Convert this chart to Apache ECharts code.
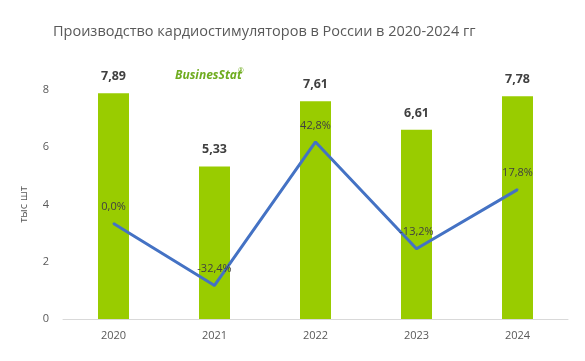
<!DOCTYPE html>
<html><head><meta charset="utf-8">
<script src="https://cdn.jsdelivr.net/npm/echarts@6/dist/echarts.min.js"></script>
<style>html,body{margin:0;padding:0;background:#fff}#c{width:585px;height:361px}</style>
</head><body><div id="c"></div>
<script>
const years = ['2020','2021','2022','2023','2024'];
const production = [7.89, 5.33, 7.61, 6.61, 7.78];
const growth = [0.0, -32.4, 42.8, -13.2, 17.8];
const yTicks = [0, 2, 4, 6, 8];

const fmt = v => String(v.toFixed(2)).replace('.', ',');
const fmtP = v => v.toFixed(1).replace('.', ',') + '%';

const chart = echarts.init(document.getElementById('c'), null, {renderer:'canvas'});
chart.setOption({
  animation:false,
  textStyle:{fontFamily:'Open Sans'},
  title:{text:'Производство кардиостимуляторов в России в 2020-2024 гг', left:48, top:19,
    textStyle:{fontFamily:'Open Sans', fontSize:14.5, fontWeight:'normal', color:'#595959'}},
  graphic:[
    {type:'text', left:175, top:70, style:{text:'BusinesStat', font:'italic bold 12px "Open Sans"', fill:'#6fac1f'}},
    {type:'text', left:238, top:67, style:{text:'®', font:'7px "Open Sans"', fill:'#6fac1f'}}
  ],
  grid:{left:63, right:17, top:90, bottom:42},
  xAxis:{type:'category', data:years,
    axisLine:{lineStyle:{color:'#d9d9d9', width:1}}, axisTick:{show:false},
    axisLabel:{color:'#595959', fontSize:11, margin:11}},
  yAxis:[
    {type:'value', min:0, max:8, interval:2, name:'тыс шт', nameLocation:'middle', nameGap:34,
      nameTextStyle:{color:'#595959', fontSize:11},
      axisLine:{show:false}, axisTick:{show:false}, splitLine:{show:false},
      axisLabel:{color:'#595959', fontSize:11, margin:14}},
    {type:'value', min:-50, max:70, show:false, splitLine:{show:false}}
  ],
  series:[
    {type:'bar', data:production, barWidth:31, itemStyle:{color:'#99cc00'},
      label:{show:true, position:'top', distance:10, formatter:p=>fmt(p.value),
        color:'#404040', fontSize:12.5, fontWeight:'bold'}},
    {type:'line', yAxisIndex:1, data:growth, symbol:'circle', symbolSize:2, showSymbol:true,
      itemStyle:{color:'#4472c4'}, z:3,
      lineStyle:{color:'#4472c4', width:3},
      label:{show:true, position:'top', distance:10, formatter:p=>fmtP(p.value),
        color:'#404040', fontSize:11}}
  ]
});
</script></body></html>
